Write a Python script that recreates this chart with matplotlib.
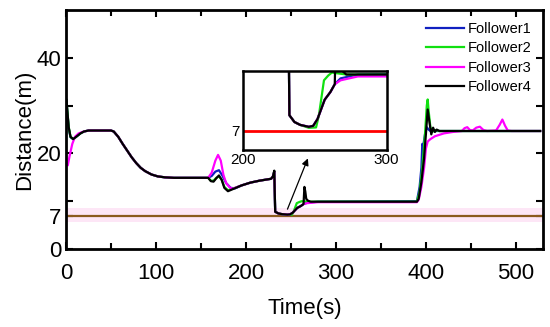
import numpy as np
import matplotlib
matplotlib.use("Agg")
import matplotlib.pyplot as plt

plt.rcParams['font.family'] = ['Liberation Sans', 'DejaVu Sans']

# Follower4 (black)
t4 = [0.5, 1, 3, 5, 8, 12, 16, 20, 25, 50, 53, 58, 63, 68, 73, 78, 83, 88, 95, 102, 110, 120,
      158, 161, 164, 167, 170, 173, 176, 180, 185, 195, 205, 215, 228, 230, 231.5, 232, 232.5,
      236, 240, 246, 249, 252, 254, 257, 261, 264, 265, 266, 267, 269, 272,
      390, 392, 395, 398, 400, 402, 404, 406, 408, 410, 412, 415, 527]
d4 = [31.2, 30.0, 25.5, 23.5, 23.0, 23.6, 24.2, 24.6, 24.8, 24.8, 24.6, 23.5, 22.0, 20.6, 19.2, 18.0, 17.0, 16.3, 15.6, 15.2, 15.0, 14.9,
      14.9, 14.2, 14.1, 14.8, 15.4, 14.5, 12.8, 12.1, 12.5, 13.3, 13.9, 14.3, 14.7, 15.2, 16.4, 12.0, 7.8,
      7.45, 7.3, 7.2, 7.25, 7.6, 8.0, 8.6, 9.0, 9.4, 13.0, 12.0, 10.5, 10.1, 9.9,
      9.9, 10.5, 14.0, 19.0, 24.0, 29.2, 26.5, 24.0, 25.4, 24.5, 25.0, 24.7, 24.7]

# Follower3 (magenta)
t3 = [0.5, 2, 4, 7, 10, 14, 20, 25, 50, 53, 58, 63, 68, 73, 78, 83, 88, 95, 102, 110, 120,
      158, 162, 166, 169, 172, 175, 178, 182, 185, 195, 205, 215, 228, 230, 231.5, 232, 232.5,
      236, 240, 246, 249, 252, 254, 257, 261, 264, 268, 280,
      390, 392, 395, 398, 400, 402, 405, 410, 420, 430, 440, 443, 446, 449, 452, 456, 460, 464,
      468, 478, 482, 485, 488, 491, 495, 527]
d3 = [18.0, 17.5, 19.5, 22.0, 23.5, 24.2, 24.6, 24.8, 24.8, 24.6, 23.5, 22.0, 20.6, 19.2, 18.0, 17.0, 16.3, 15.6, 15.2, 15.0, 14.9,
      14.9, 16.0, 18.5, 19.7, 18.5, 15.5, 13.8, 12.9, 12.6, 13.3, 13.9, 14.3, 14.7, 15.2, 16.2, 12.0, 7.8,
      7.45, 7.3, 7.2, 7.25, 7.6, 8.0, 8.6, 9.0, 9.4, 9.6, 9.8,
      9.8, 10.3, 13.0, 17.0, 21.0, 22.5, 23.0, 23.6, 24.2, 24.5, 24.7, 25.3, 25.5, 24.9, 24.8, 25.4, 25.6, 24.9,
      24.7, 24.8, 26.0, 27.1, 25.8, 24.8, 24.7, 24.7]

# Follower2 (green)
t2 = [0.5, 1, 3, 5, 8, 12, 16, 20, 25, 50, 53, 58, 63, 68, 73, 78, 83, 88, 95, 102, 110, 120,
      158, 161, 164, 167, 170, 173, 176, 180, 185, 195, 205, 215, 228, 230, 231.5, 232, 232.5,
      236, 240, 246, 251, 253, 256.5, 259.5, 262, 272,
      390, 393, 396, 399, 401, 402, 403, 405, 407, 410, 415, 527]
d2 = [31.2, 30.0, 25.5, 23.5, 23.0, 23.6, 24.2, 24.6, 24.8, 24.8, 24.6, 23.5, 22.0, 20.6, 19.2, 18.0, 17.0, 16.3, 15.6, 15.2, 15.0, 14.9,
      14.9, 14.3, 14.3, 14.9, 15.2, 14.5, 13.0, 12.3, 12.6, 13.3, 13.9, 14.3, 14.7, 15.2, 16.3, 12.0, 7.8,
      7.45, 7.3, 7.15, 7.17, 7.8, 9.6, 9.85, 10.0, 9.9,
      9.9, 12.0, 17.0, 24.0, 30.0, 31.3, 29.0, 25.5, 24.5, 24.9, 24.7, 24.7]

# Follower1 (blue)
t1 = [0.5, 1, 3, 5, 8, 12, 16, 20, 25, 50, 53, 58, 63, 68, 73, 78, 83, 88, 95, 102, 110, 120,
      158, 162, 166, 170, 174, 178, 183, 188, 195, 205, 215, 228, 230, 231.5, 232, 232.5,
      236, 240, 246, 249, 252, 254, 257, 261, 264, 268, 280,
      390, 393, 395, 396, 397, 399, 401, 403, 405, 527]
d1 = [31.0, 29.8, 25.3, 23.4, 23.0, 23.6, 24.2, 24.6, 24.8, 24.8, 24.6, 23.5, 22.0, 20.6, 19.2, 18.0, 17.0, 16.3, 15.6, 15.2, 15.0, 14.9,
      14.9, 15.3, 16.2, 16.5, 15.3, 13.8, 12.8, 12.7, 13.3, 13.9, 14.3, 14.7, 15.2, 16.2, 12.0, 7.8,
      7.45, 7.3, 7.2, 7.25, 7.6, 8.0, 8.6, 9.0, 9.4, 9.7, 9.9,
      10.0, 13.0, 17.0, 22.0, 21.5, 24.0, 25.5, 25.0, 24.7, 24.7]

safe_dist = 7
labels = ['Follower1', 'Follower2', 'Follower3', 'Follower4']
colors = ['#1020c0', '#10e010', '#ff00ff', 'black']
series = [(t1, d1), (t2, d2), (t3, d3), (t4, d4)]

fig = plt.figure(figsize=(5.5, 3.27), dpi=100)
ax = fig.add_axes([0.12, 0.2385, 0.867, 0.7305])

ax.axhspan(5.6, 8.6, color='#fde6f6', lw=0)
ax.axhline(safe_dist, color='#8b5a1e', lw=1.6)
for (t, d), c, lab in zip(series, colors, labels):
    ax.plot(t, d, color=c, lw=1.6, label=lab)

ax.set_xlim(0, 530)
ax.set_ylim(0, 50)
ax.set_xticks([0, 100, 200, 300, 400, 500])
ax.set_xticks([50, 150, 250, 350, 450], minor=True)
ax.set_yticks([0, 7, 10, 20, 30, 40])
ax.set_yticklabels(['0', '7', '', '20', '', '40'])
ax.tick_params(which='both', direction='in', top=True, right=True, labelsize=16, width=1.5)
ax.tick_params(which='major', length=5)
ax.tick_params(which='minor', length=4)
ax.tick_params(axis='x', pad=10)
for s in ax.spines.values():
    s.set_linewidth(2)
ax.set_xlabel('Time(s)', fontsize=16, labelpad=10)
ax.set_ylabel('Distance(m)', fontsize=16, labelpad=1)
ax.legend(loc='upper right', frameon=False, fontsize=10.5, handlelength=2.6,
          labelspacing=0.38, handletextpad=0.25, borderaxespad=0.5, borderpad=0.3)

ax.annotate('', xy=(270, 19.5), xytext=(245, 7.8),
            arrowprops=dict(arrowstyle='-|>', color='black', lw=0.9, mutation_scale=10))

# inset zoom on the dip
ins = fig.add_axes([0.441, 0.541, 0.262, 0.243])
ins.axhline(safe_dist, color='red', lw=2)
for (t, d), c in zip(series, colors):
    ins.plot(t, d, color=c, lw=1.6)
ins.set_xlim(200, 300)
ins.set_ylim(6, 10.1)
ins.set_xticks([200, 300])
ins.set_yticks([7])
ins.tick_params(length=0, labelsize=11, pad=2)
for s in ins.spines.values():
    s.set_linewidth(1.8)

fig.savefig('out.png', dpi=100)
